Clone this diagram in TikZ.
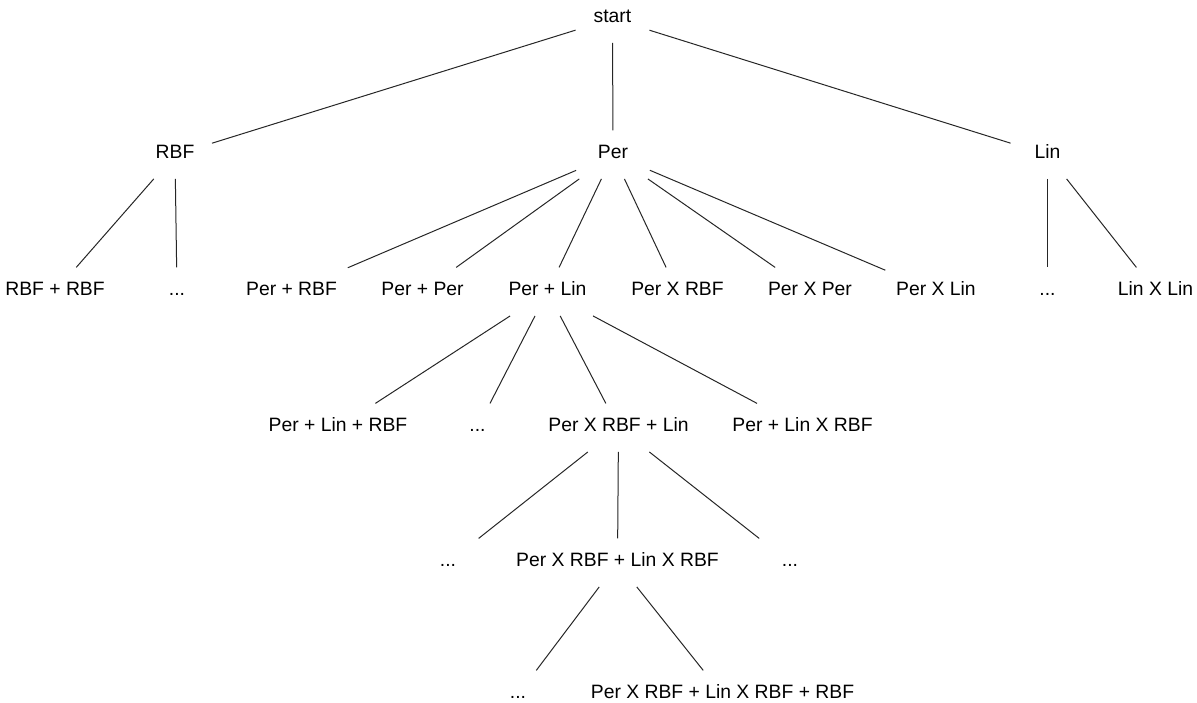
\documentclass[tikz,border=0pt]{standalone}
\usepackage{fontspec}
\setmainfont{Liberation Sans}
\begin{document}
\begin{tikzpicture}[x=0.75pt, y=-0.75pt,
  every node/.style={anchor=base, minimum width=55pt, minimum height=36pt,
    inner xsep=8pt, text height=0.72em, text depth=0.22em,
    font=\fontsize{14.5}{17}\selectfont},
  link/.style={draw=black!85, line width=0.75pt}]
  \useasboundingbox (0,0) rectangle (1197,703);

  % level 0 and 1
  \node (start) at (612.5,22) {start};
  \node (rbf) at (175,158) {RBF};
  \node (per) at (613,158) {Per};
  \node (lin) at (1047.5,158) {Lin};

  % level 2
  \node (rbfrbf) at (55,295) {RBF + RBF};
  \node (rbfdots) at (177,295) {...};
  \node (perrbf) at (291.5,295) {Per + RBF};
  \node (perper) at (422.5,295) {Per + Per};
  \node (perlin) at (547.5,295) {Per + Lin};
  \node (perXrbf) at (677.5,295) {Per X RBF};
  \node (perXper) at (810,295) {Per X Per};
  \node (perXlin) at (936,295) {Per X Lin};
  \node (lindots) at (1047.5,295) {...};
  \node (linXlin) at (1155.5,295) {Lin X Lin};

  % level 3
  \node (plr) at (338,431) {Per + Lin + RBF};
  \node (pldots) at (477.5,431) {...};
  \node (pxrl) at (618.5,431) {Per X RBF + Lin};
  \node (plxr) at (802.5,431) {Per + Lin X RBF};

  % level 4 and 5
  \node (pxrldotsa) at (448,566) {...};
  \node (pxrlxr) at (617.5,566) {Per X RBF + Lin X RBF};
  \node (pxrldotsb) at (790,566) {...};
  \node (lastdots) at (518,698) {...};
  \node (pxrlxrr) at (722.5,698) {Per X RBF + Lin X RBF + RBF};

  \draw[link] (start) -- (rbf);
  \draw[link] (start) -- (per);
  \draw[link] (start) -- (lin);

  \draw[link] (rbf) -- (rbfrbf);
  \draw[link] (rbf) -- (rbfdots);
  \draw[link] (per) -- (perrbf);
  \draw[link] (per) -- (perper);
  \draw[link] (per) -- (perlin);
  \draw[link] (per) -- (perXrbf);
  \draw[link] (per) -- (perXper);
  \draw[link] (per) -- (perXlin);
  \draw[link] (lin) -- (lindots);
  \draw[link] (lin) -- (linXlin);

  \draw[link] (perlin) -- (plr);
  \draw[link] (perlin) -- (pldots);
  \draw[link] (perlin) -- (pxrl);
  \draw[link] (perlin) -- (plxr);

  \draw[link] (pxrl) -- (pxrldotsa);
  \draw[link] (pxrl) -- (pxrlxr);
  \draw[link] (pxrl) -- (pxrldotsb);

  \draw[link] (pxrlxr) -- (lastdots);
  \draw[link] (pxrlxr) -- (pxrlxrr);
\end{tikzpicture}
\end{document}
